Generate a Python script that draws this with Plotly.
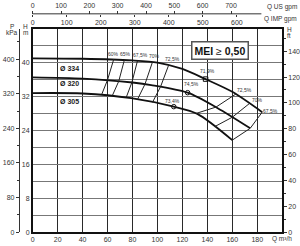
import plotly.graph_objects as go

# ---- data ----
Q334 = [0, 40, 80, 100, 120, 138.6, 160, 184]
H334 = [41.0, 40.9, 40.5, 40.0, 38.5, 36.1, 33.1, 28.3]
Q320 = [0, 40, 80, 95, 124.2, 148, 174.4]
H320 = [36.5, 36.2, 35.3, 34.7, 32.9, 29.3, 24.5]
Q305 = [0, 40, 79, 113.1, 132, 160]
H305 = [32.8, 32.7, 31.6, 29.6, 27.9, 21.7]

bep_Q = [138.6, 124.2, 113.1]
bep_H = [36.1, 32.9, 29.6]
bep_sym = ["square-open", "circle-open", "circle-open"]
bep_lab = ["71,9%", "74,5%", "73,4%"]
bep_lab_Q = [140, 127, 112]
bep_lab_H = [37.9, 34.9, 30.9]

iso_names = ["60%", "65%", "67,5%", "70%", "72,5%", "72,5%", "70%", "67,5%"]
iso_Q = [[65, 60, 55.5], [73.5, 69, 64], [84, 79.5, 75], [96, 90, 84], [109, 102.5, 96],
         [163, 147, 131], [174, 160, 146], [184, 174.4, 160]]
iso_H = [[40.8, 35.9, 32.6], [40.6, 35.6, 32.3], [40.4, 35.3, 31.8], [40.1, 34.9, 31.3],
         [39.4, 34.3, 30.6], [32.6, 29.5, 28.0], [30.4, 27.1, 24.9], [28.3, 24.5, 21.7]]
iso_lab_Q = [65, 74.6, 86.5, 97.5, 112, 170, 180.5, 191]
iso_lab_H = [42.0, 42.0, 41.8, 41.6, 40.9, 33.6, 31.1, 28.6]

dia_names = ["Ø 334", "Ø 320", "Ø 305"]
dia_lab_Q = [29.5, 29.5, 29.5]
dia_lab_H = [38.7, 35.0, 30.8]

Q_ticks = [0, 20, 40, 60, 80, 100, 120, 140, 160, 180]
H_ticks = [0, 8, 16, 24, 32, 40]
P_ticks = [0, 80, 160, 240, 320, 400]
Hft_ticks = [0, 20, 40, 60, 80, 100, 120, 140]
US_ticks = [0, 100, 200, 300, 400, 500, 600, 700]
IMP_ticks = [0, 100, 200, 300, 400, 500, 600]

# ---- figure ----
W, Hpx = 300, 246
x0, x1 = 31, 283
yt, yb = 29, 235
FONT = "Liberation Sans, Arial, sans-serif"
Qmax = 200
Hmax = 48

fig = go.Figure()
for q, h in [(Q334, H334), (Q320, H320), (Q305, H305)]:
    fig.add_trace(go.Scatter(x=q, y=h, mode="lines", line=dict(color="#111", width=1.8, shape="spline", smoothing=0.8),
                             showlegend=False, hoverinfo="skip"))
for q, h in zip(iso_Q, iso_H):
    fig.add_trace(go.Scatter(x=q, y=h, mode="lines", line=dict(color="#222", width=1),
                             showlegend=False, hoverinfo="skip"))
for q, h, s in zip(bep_Q, bep_H, bep_sym):
    fig.add_trace(go.Scatter(x=[q], y=[h], mode="markers",
                             marker=dict(symbol=s, size=4.5, color="#111", line=dict(width=1, color="#111")),
                             showlegend=False, hoverinfo="skip"))

# invisible traces so that the overlaying axes are realised
for xa, ya in [("x2", "y"), ("x3", "y"), ("x", "y2"), ("x", "y3")]:
    fig.add_trace(go.Scatter(x=[0], y=[0], xaxis=xa, yaxis=ya, mode="markers",
                             marker=dict(opacity=0), showlegend=False, hoverinfo="skip"))

tickfont = dict(family=FONT, size=7, color="#333")

fig.update_layout(
    width=W, height=Hpx, margin=dict(l=0, r=0, t=0, b=0),
    paper_bgcolor="white", plot_bgcolor="white",
    xaxis=dict(domain=[x0 / W, x1 / W], range=[0, Qmax], tickvals=Q_ticks, showgrid=True,
               gridcolor="#2a2a2a", gridwidth=1.3, showline=True, linecolor="#111", linewidth=1.5,
               mirror=True, ticks="", tickfont=tickfont, zeroline=False),
    yaxis=dict(domain=[1 - yb / Hpx, 1 - yt / Hpx], range=[0, Hmax], tickvals=H_ticks, showgrid=True,
               gridcolor="#777", gridwidth=1.3,
               minor=dict(tickvals=list(range(0, 49, 4)), showgrid=True, gridcolor="#777", gridwidth=1.3),
               showline=True, linecolor="#111", linewidth=1.5, mirror=True, ticks="", tickfont=tickfont,
               zeroline=False),
    yaxis2=dict(overlaying="y", anchor="free", position=17 / W, side="left", range=[0, Hmax * 9.80665],
                tickvals=P_ticks, ticks="outside", ticklen=3, tickcolor="#333",
                minor=dict(dtick=40, tick0=0, ticks="outside", ticklen=2, tickcolor="#333"),
                showline=True, linecolor="#333", linewidth=1, showgrid=False, zeroline=False, tickfont=tickfont),
    yaxis3=dict(overlaying="y", anchor="x", side="right", range=[0, Hmax * 3.28084],
                tickvals=Hft_ticks, ticks="outside", ticklen=3, tickcolor="#333",
                minor=dict(dtick=10, tick0=0, ticks="outside", ticklen=2, tickcolor="#333"),
                showline=True, linecolor="#111", linewidth=1.5, showgrid=False, zeroline=False, tickfont=tickfont),
    xaxis2=dict(overlaying="x", anchor="free", position=1 - 14 / Hpx, side="top",
                range=[0, Qmax / 0.2271247], tickvals=US_ticks, ticks="outside", ticklen=3,
                tickcolor="#333", showline=False, showgrid=False, zeroline=False, tickfont=tickfont),
    xaxis3=dict(overlaying="x", anchor="free", position=1 - 14 / Hpx, side="bottom",
                range=[0, Qmax / 0.272765], tickvals=IMP_ticks, ticks="outside", ticklen=2,
                tickcolor="#333", showline=False, showgrid=False, zeroline=False, tickfont=tickfont),
)

# top flow axis line (ends a bit after 700 US gpm, as in the reference)
fig.add_shape(type="line", xref="paper", yref="paper", x0=x0 / W, x1=262 / W,
              y0=1 - 14 / Hpx, y1=1 - 14 / Hpx, line=dict(color="#333", width=1))

ann = []
small = dict(family=FONT, size=5, color="#333")
for t, q, h in zip(iso_names, iso_lab_Q, iso_lab_H):
    ann.append(dict(x=q, y=h, xref="x", yref="y", text=t, showarrow=False, font=small))
for t, q, h in zip(bep_lab, bep_lab_Q, bep_lab_H):
    ann.append(dict(x=q, y=h, xref="x", yref="y", text=t, showarrow=False, font=small))
for t, q, h in zip(dia_names, dia_lab_Q, dia_lab_H):
    ann.append(dict(x=q, y=h, xref="x", yref="y", text="<b>" + t + "</b>", showarrow=False,
                    font=dict(family=FONT, size=7, color="#222")))


def P(px, py):
    return px / W, 1 - py / Hpx


lab = dict(family=FONT, size=6.5, color="#333")
for text, px, py, xa in [("P", 10, 27, "center"), ("kPa", 10, 33, "center"), ("H", 24, 27, "center"),
                         ("m", 24, 33, "center"), ("H", 290, 30, "center"), ("ft", 290, 36, "center"),
                         ("Q US gpm", 300, 7, "right"), ("Q IMP gpm", 300, 19, "right"),
                         ("Q m³/h", 283, 242, "center")]:
    x, y = P(px, py)
    ann.append(dict(x=x, y=y, xref="paper", yref="paper", text=text, showarrow=False, xanchor=xa,
                    yanchor="middle", font=lab))

x, y = P(249.5, 41.5)
ann.append(dict(x=x, y=y, xref="paper", yref="paper", text="<b>MEI</b> ≥ <b>0,50</b>", showarrow=False,
                font=dict(family=FONT, size=10.5, color="#111"), bgcolor="white", bordercolor="#555",
                borderwidth=1.5, borderpad=2))
fig.update_layout(annotations=ann)

fig.write_html("out.html")
